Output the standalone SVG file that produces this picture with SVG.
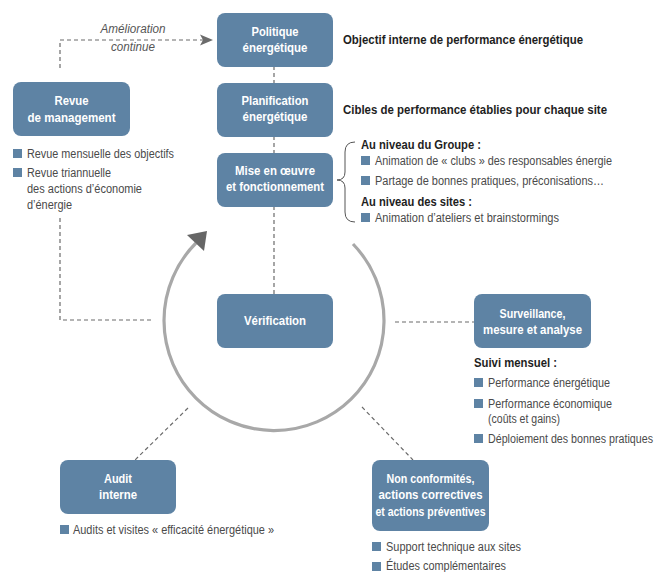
<svg xmlns="http://www.w3.org/2000/svg" width="658" height="572" viewBox="0 0 658 572">
<style>
.box{fill:#5e83a4}
.bt{font-family:"Liberation Sans",Arial,sans-serif;font-weight:bold;font-size:13px;fill:#ffffff;text-anchor:middle}
.t{font-family:"Liberation Sans",Arial,sans-serif;font-size:12px;fill:#4a4a4a}
.b{font-family:"Liberation Sans",Arial,sans-serif;font-size:12px;font-weight:bold;fill:#1e1e1e}
.it{font-family:"Liberation Sans",Arial,sans-serif;font-size:12px;font-style:italic;fill:#555;text-anchor:middle}
.dash{fill:none;stroke:#6b6b6b;stroke-width:1.2;stroke-dasharray:4 3}
.sq{fill:#5e83a4}
</style>
<rect width="658" height="572" fill="#ffffff"/>
<g id="connectors">
<path class="dash" d="M60,68 V40 H203"/>
<polygon points="213,40 200,34.5 203,40 200,45.5" fill="#6b6b6b"/>
<path class="dash" d="M274,66 V83 M274,136 V153 M274,206 V294"/>
<path class="dash" d="M60,218 V320 H154"/>
<path class="dash" d="M395,322 H474"/>
<path class="dash" d="M362,407 L413,460"/>
<path class="dash" d="M188,408 L135,460"/>
<path d="M353,244 A110,110 0 1 1 196,243" fill="none" stroke="#a8a8a8" stroke-width="3.2"/>
<polygon points="207,231 187,235 204,251" fill="#666666"/>
</g>
<g id="politique">
<rect class="box" x="217" y="13" width="116" height="54" rx="8"/>
<text class="bt" x="275" y="36" textLength="47" lengthAdjust="spacingAndGlyphs">Politique</text>
<text class="bt" x="275" y="52" textLength="65" lengthAdjust="spacingAndGlyphs">énergétique</text>
</g>
<g id="planification">
<rect class="box" x="217" y="83" width="116" height="54" rx="8"/>
<text class="bt" x="275" y="105" textLength="67" lengthAdjust="spacingAndGlyphs">Planification</text>
<text class="bt" x="275" y="121" textLength="65" lengthAdjust="spacingAndGlyphs">énergétique</text>
</g>
<g id="mise">
<rect class="box" x="217" y="153" width="116" height="54" rx="8"/>
<text class="bt" x="275" y="175" textLength="80" lengthAdjust="spacingAndGlyphs">Mise en œuvre</text>
<text class="bt" x="275" y="191" textLength="98" lengthAdjust="spacingAndGlyphs">et fonctionnement</text>
</g>
<g id="verification">
<rect class="box" x="217" y="294" width="116" height="54" rx="8"/>
<text class="bt" x="275" y="325" textLength="62" lengthAdjust="spacingAndGlyphs">Vérification</text>
</g>
<g id="revue">
<rect class="box" x="13" y="82" width="117" height="54" rx="8"/>
<text class="bt" x="71.5" y="105" textLength="34" lengthAdjust="spacingAndGlyphs">Revue</text>
<text class="bt" x="71.5" y="122" textLength="88" lengthAdjust="spacingAndGlyphs">de management</text>
</g>
<g id="surveillance">
<rect class="box" x="474" y="294" width="117" height="54" rx="8"/>
<text class="bt" x="532.5" y="318" textLength="66" lengthAdjust="spacingAndGlyphs">Surveillance,</text>
<text class="bt" x="532.5" y="334" textLength="99" lengthAdjust="spacingAndGlyphs">mesure et analyse</text>
</g>
<g id="audit">
<rect class="box" x="60" y="460" width="116" height="54" rx="8"/>
<text class="bt" x="118" y="483" textLength="28" lengthAdjust="spacingAndGlyphs">Audit</text>
<text class="bt" x="118" y="499" textLength="38" lengthAdjust="spacingAndGlyphs">interne</text>
</g>
<g id="nonconf">
<rect class="box" x="372" y="460" width="117" height="71" rx="8"/>
<text class="bt" x="430.5" y="483" textLength="88" lengthAdjust="spacingAndGlyphs">Non conformités,</text>
<text class="bt" x="430.5" y="499" textLength="104" lengthAdjust="spacingAndGlyphs">actions correctives</text>
<text class="bt" x="430.5" y="516" textLength="110" lengthAdjust="spacingAndGlyphs">et actions préventives</text>
</g>
<g id="labels">
<text class="it" x="133" y="33" textLength="65" lengthAdjust="spacingAndGlyphs">Amélioration</text>
<text class="it" x="133" y="51" textLength="44" lengthAdjust="spacingAndGlyphs">continue</text>
<text class="b" x="343" y="44" textLength="240" lengthAdjust="spacingAndGlyphs">Objectif interne de performance énergétique</text>
<text class="b" x="343" y="114" textLength="264" lengthAdjust="spacingAndGlyphs">Cibles de performance établies pour chaque site</text>
<path d="M355,142 Q345,142 345,152 V172 Q345,180 337,180 Q345,180 345,188 V212 Q345,222 355,222" fill="none" stroke="#555" stroke-width="1"/>
<text class="b" x="361" y="149" textLength="120" lengthAdjust="spacingAndGlyphs">Au niveau du Groupe :</text>
<rect class="sq" x="361" y="156" width="9" height="9"/>
<text class="t" x="375" y="165" textLength="237" lengthAdjust="spacingAndGlyphs">Animation de « clubs » des responsables énergie</text>
<rect class="sq" x="361" y="176" width="9" height="9"/>
<text class="t" x="375" y="185" textLength="229" lengthAdjust="spacingAndGlyphs">Partage de bonnes pratiques, préconisations…</text>
<text class="b" x="361" y="206" textLength="111" lengthAdjust="spacingAndGlyphs">Au niveau des sites :</text>
<rect class="sq" x="361" y="213" width="9" height="9"/>
<text class="t" x="375" y="222" textLength="184" lengthAdjust="spacingAndGlyphs">Animation d’ateliers et brainstormings</text>
<rect class="sq" x="13" y="149" width="9" height="9"/>
<text class="t" x="27" y="158" textLength="147" lengthAdjust="spacingAndGlyphs">Revue mensuelle des objectifs</text>
<rect class="sq" x="13" y="168" width="9" height="9"/>
<text class="t" x="27" y="177" textLength="84" lengthAdjust="spacingAndGlyphs">Revue triannuelle</text>
<text class="t" x="27" y="193" textLength="115" lengthAdjust="spacingAndGlyphs">des actions d’économie</text>
<text class="t" x="27" y="209" textLength="45" lengthAdjust="spacingAndGlyphs">d’énergie</text>
<text class="b" x="474" y="367" textLength="83" lengthAdjust="spacingAndGlyphs">Suivi mensuel :</text>
<rect class="sq" x="474" y="378" width="9" height="9"/>
<text class="t" x="488" y="387" textLength="122" lengthAdjust="spacingAndGlyphs">Performance énergétique</text>
<rect class="sq" x="474" y="399" width="9" height="9"/>
<text class="t" x="488" y="408" textLength="124" lengthAdjust="spacingAndGlyphs">Performance économique</text>
<text class="t" x="488" y="423" textLength="72" lengthAdjust="spacingAndGlyphs">(coûts et gains)</text>
<rect class="sq" x="474" y="434" width="9" height="9"/>
<text class="t" x="488" y="443" textLength="165" lengthAdjust="spacingAndGlyphs">Déploiement des bonnes pratiques</text>
<rect class="sq" x="60" y="525" width="9" height="9"/>
<text class="t" x="73" y="534" textLength="201" lengthAdjust="spacingAndGlyphs">Audits et visites « efficacité énergétique »</text>
<rect class="sq" x="372" y="542" width="9" height="9"/>
<text class="t" x="386" y="551" textLength="135" lengthAdjust="spacingAndGlyphs">Support technique aux sites</text>
<rect class="sq" x="372" y="562" width="9" height="9"/>
<text class="t" x="386" y="570" textLength="120" lengthAdjust="spacingAndGlyphs">Études complémentaires</text>
</g>
</svg>
